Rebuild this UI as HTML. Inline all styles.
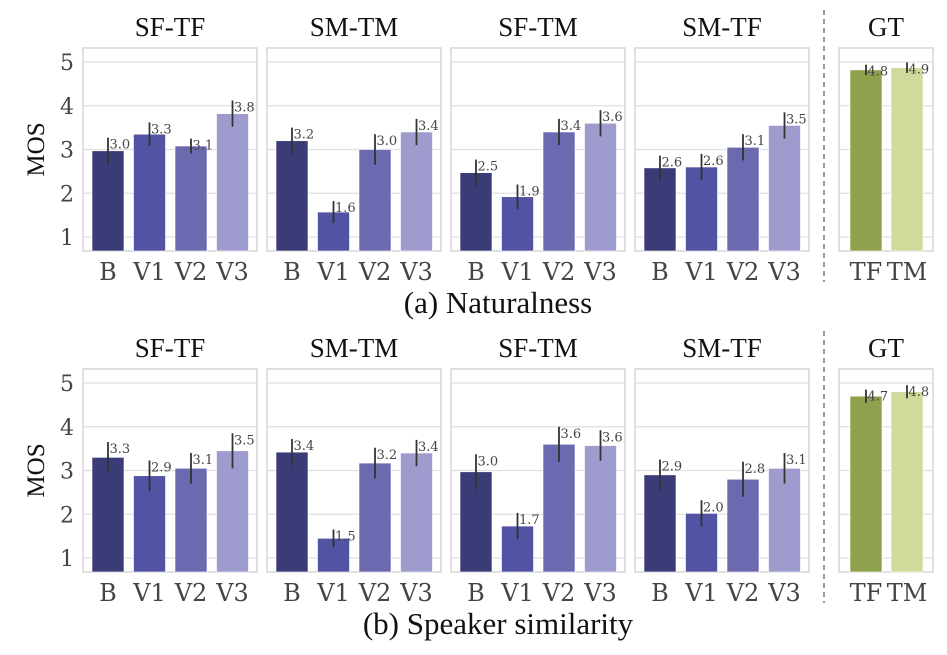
<!DOCTYPE html>
<html><head><meta charset="utf-8"><style>
html,body{margin:0;padding:0;background:#fff;}
svg{display:block;font-family:"Liberation Serif",serif;}
</style></head><body>
<svg id="chart" width="947" height="655" viewBox="0 0 947 655" xmlns="http://www.w3.org/2000/svg"></svg>
<script>
const categories = ["B","V1","V2","V3"];
const gtCategories = ["TF","TM"];
const panelTitles = ["SF-TF","SM-TM","SF-TM","SM-TF"];
const yTicks = [1,2,3,4,5];
const natValues = [[2.97,3.35,3.08,3.82],[3.2,1.57,3.0,3.4],[2.47,1.92,3.4,3.6],[2.58,2.6,3.05,3.55]];
const natErrors = [[0.3,0.27,0.17,0.3],[0.3,0.25,0.35,0.3],[0.3,0.28,0.3,0.3],[0.28,0.3,0.3,0.3]];
const natLabels = [["3.0","3.3","3.1","3.8"],["3.2","1.6","3.0","3.4"],["2.5","1.9","3.4","3.6"],["2.6","2.6","3.1","3.5"]];
const natGT = [4.82,4.87];
const natGTErr = [0.12,0.12];
const natGTLabels = ["4.8","4.9"];
const simValues = [[3.3,2.88,3.05,3.45],[3.42,1.45,3.17,3.4],[2.97,1.73,3.6,3.57],[2.9,2.02,2.8,3.05]];
const simErrors = [[0.35,0.35,0.35,0.4],[0.3,0.2,0.35,0.3],[0.4,0.3,0.4,0.35],[0.35,0.3,0.4,0.35]];
const simLabels = [["3.3","2.9","3.1","3.5"],["3.4","1.5","3.2","3.4"],["3.0","1.7","3.6","3.6"],["2.9","2.0","2.8","3.1"]];
const simGT = [4.7,4.8];
const simGTErr = [0.15,0.15];
const simGTLabels = ["4.7","4.8"];

const NS="http://www.w3.org/2000/svg";
const svg=document.getElementById('chart');
function mk(tag,attrs,parent){const e=document.createElementNS(NS,tag);for(const k in attrs)e.setAttribute(k,attrs[k]);(parent||svg).appendChild(e);return e;}
const colors=["#3b3b78","#5254a3","#6b6ab0","#9e9ccf"];
const gtColors=["#8ea24d","#cedb9a"];
const panelX=[83,267,451,635];
const panelW=174;
const gtX=839, gtW=94;
const unit=43.75;
const DJ='"DejaVu Serif",serif';

function drawRow(offY, values, errors, labels, gt, gtErr, gtLabels, caption, rowName){
  const g=mk('g',{});
  
  
  const top=48+offY, bot=251+offY;
  const y=v=>237+offY-(v-1)*unit;
  function panel(px,pw,title,cats,vals,errs,labs,cols,first,slot,off){
    const pg=mk('g',{},g);
    
    
    yTicks.forEach(t=>{const l=mk('line',{x1:px,x2:px+pw,y1:y(t),y2:y(t),stroke:'#e0e0e0','stroke-width':1.3},pg);
      });
    const fr=mk('rect',{x:px,y:top,width:pw,height:bot-top,fill:'none',stroke:'#d6d6d6','stroke-width':1.5},pg);
    
    const tt=mk('text',{x:px+pw/2,y:top-12,'text-anchor':'middle','font-size':27,fill:'#111'},pg);
    tt.textContent=title;
    cats.forEach((c,i)=>{
      const cx=px+off+i*slot;
      const b=mk('rect',{x:cx-16,y:y(vals[i]),width:32,height:bot-y(vals[i]),fill:cols[i],stroke:'#fff','stroke-width':0.6},pg);
      
      const e=mk('line',{x1:cx,x2:cx,y1:y(vals[i]+errs[i]),y2:y(vals[i]-errs[i]),stroke:'#333','stroke-width':1.8},pg);
      
      const vt=mk('text',{x:cx+1.5,y:y(vals[i]+errs[i])+11,'font-size':13,fill:'#444','font-family':DJ},pg);
      vt.textContent=labs[i];
      const xl=mk('text',{x:cx,y:bot+29,'text-anchor':'middle','font-size':24,fill:'#444','font-family':DJ},pg);
      xl.textContent=c;
    });
    if(first){
      yTicks.forEach(t=>{const tl=mk('text',{x:px-9,y:y(t)+8,'text-anchor':'end','font-size':22,fill:'#444','font-family':DJ},pg);
        tl.textContent=t;});
      const yt=mk('text',{x:0,y:0,'text-anchor':'middle','font-size':25,fill:'#111',transform:`translate(44,${(top+bot)/2}) rotate(-90)`},pg);
      yt.textContent='MOS';
    }
  }
  panelTitles.forEach((t,p)=>panel(panelX[p],panelW,t,categories,values[p],errors[p],labels[p],colors,p===0,41.5,25));
  panel(gtX,gtW,'GT',gtCategories,gt,gtErr,gtLabels,gtColors,false,41,27);
  const cap=mk('text',{x:498,y:bot+62,'text-anchor':'middle','font-size':31,fill:'#111'},g);
  cap.textContent=caption;
}
drawRow(0,natValues,natErrors,natLabels,natGT,natGTErr,natGTLabels,'(a) Naturalness','naturalness-row');
drawRow(321,simValues,simErrors,simLabels,simGT,simGTErr,simGTLabels,'(b) Speaker similarity','similarity-row');
[[10,282],[331,603]].forEach(r=>{
  const d=mk('line',{x1:824,x2:824,y1:r[0],y2:r[1],stroke:'#555','stroke-width':1.2,'stroke-dasharray':'5,4'});
  
});
</script>
</body></html>
